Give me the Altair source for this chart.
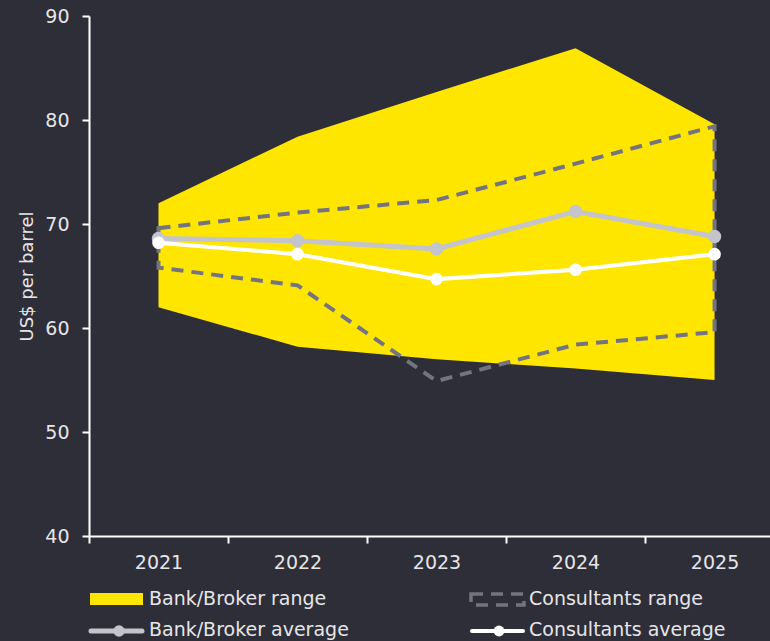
import altair as alt
import pandas as pd

# ---- data ----
years = [2021, 2022, 2023, 2024, 2025]
bank_low = [62.0, 58.2, 57.0, 56.1, 55.0]
bank_high = [72.0, 78.4, 82.7, 86.9, 79.6]
cons_low = [65.8, 64.1, 54.9, 58.4, 59.6]
cons_high = [69.6, 71.1, 72.3, 75.8, 79.4]
bank_avg = [68.6, 68.4, 67.6, 71.2, 68.8]
cons_avg = [68.2, 67.1, 64.7, 65.6, 67.1]
y_ticks = [40, 50, 60, 70, 80, 90]
legend_labels = ["Bank/Broker range", "Consultants range", "Bank/Broker average", "Consultants average"]

df = pd.DataFrame({
    "year": years,
    "bank_low": bank_low,
    "bank_high": bank_high,
    "cons_low": cons_low,
    "cons_high": cons_high,
    "bank_avg": bank_avg,
    "cons_avg": cons_avg,
})

BG = "#2e2e38"
TXT = "#e6e6e8"
YELLOW = "#ffe600"
DASH = "#747480"
GRAY = "#c4c4cd"
WHITE = "#ffffff"
FONT = "DejaVu Sans"
FW = "normal"

x_axis = alt.Axis(
    values=[2020.5, 2021.5, 2022.5, 2023.5, 2024.5],
    labelExpr="format(datum.value + 0.5, 'd')",
    labelOffset=69.5,
    labelFlush=False,
    labelOverlap=False,
    labelPadding=10,
    title=None,
    grid=False,
)
y_axis = alt.Axis(
    values=y_ticks,
    title="US$ per barrel",
    titlePadding=8,
    labelPadding=13,
    grid=False,
)


def X():
    return alt.X("year:Q", scale=alt.Scale(domain=[2020.5, 2025.399], nice=False, zero=False), axis=x_axis)


def Y(field):
    return alt.Y(f"{field}:Q", scale=alt.Scale(domain=[40, 90], nice=False, zero=False), axis=y_axis)


base = alt.Chart(df)

bank_range = base.mark_area(color=YELLOW, opacity=1).encode(
    x=X(), y=Y("bank_high"), y2=alt.Y2("bank_low")
)
cons_range = base.mark_area(
    fillOpacity=0, stroke=DASH, strokeWidth=4, strokeDash=[12, 8]
).encode(x=X(), y=Y("cons_high"), y2=alt.Y2("cons_low"))

bank_line = base.mark_line(color=GRAY, strokeWidth=5).encode(x=X(), y=Y("bank_avg"))
bank_pts = base.mark_circle(color=GRAY, size=180, opacity=1).encode(x=X(), y=Y("bank_avg"))
cons_line = base.mark_line(color=WHITE, strokeWidth=4).encode(x=X(), y=Y("cons_avg"))
cons_pts = base.mark_circle(color=WHITE, size=160, opacity=1).encode(x=X(), y=Y("cons_avg"))

# ---- legend (drawn below the plot) ----
one = pd.DataFrame({"k": [0]})
lg = alt.Chart(one)
r1, r2 = 583, 615
c1, c2 = 1, 381
sw = 54

leg_yellow = lg.mark_rect(color=YELLOW).encode(
    x=alt.value(c1), x2=alt.value(c1 + sw - 1), y=alt.value(r1 - 6), y2=alt.value(r1 + 6)
)
leg_dash = lg.mark_rect(fillOpacity=0, stroke=DASH, strokeWidth=3.5, strokeDash=[12, 8]).encode(
    x=alt.value(c2 + 1), x2=alt.value(c2 + sw), y=alt.value(r1 - 5), y2=alt.value(r1 + 6)
)
leg_gray_line = lg.mark_rule(color=GRAY, strokeWidth=5, strokeCap="round").encode(
    x=alt.value(c1 + 1), x2=alt.value(c1 + sw - 2), y=alt.value(r2)
)
leg_gray_pt = lg.mark_circle(color=GRAY, size=130, opacity=1).encode(x=alt.value(c1 + 29), y=alt.value(r2))
leg_white_line = lg.mark_rule(color=WHITE, strokeWidth=4, strokeCap="round").encode(
    x=alt.value(c2 + 2), x2=alt.value(c2 + sw - 1), y=alt.value(r2)
)
leg_white_pt = lg.mark_circle(color=WHITE, size=120, opacity=1).encode(x=alt.value(c2 + 29), y=alt.value(r2))


def leg_text(label, xx, yy):
    return lg.mark_text(
        align="left", baseline="middle", font=FONT, fontSize=19, fontWeight=FW, color=TXT
    ).encode(x=alt.value(xx), y=alt.value(yy), text=alt.value(label))


texts = [
    leg_text(legend_labels[0], c1 + sw + 5, r1),
    leg_text(legend_labels[1], c2 + sw + 5, r1),
    leg_text(legend_labels[2], c1 + sw + 5, r2 - 1),
    leg_text(legend_labels[3], c2 + sw + 5, r2 - 1),
]

chart = alt.layer(
    bank_range, cons_range, bank_line, bank_pts, cons_line, cons_pts,
    leg_yellow, leg_dash, leg_gray_line, leg_gray_pt, leg_white_line, leg_white_pt,
    *texts,
).properties(
    width=681,
    height=520,
    background=BG,
    padding={"left": 89, "top": 16, "right": 0, "bottom": 105},
    autosize=alt.AutoSizeParams(type="none"),
).configure_view(
    stroke=None
).configure_axis(
    domainColor=WHITE,
    domainWidth=2,
    tickColor=WHITE,
    tickWidth=2,
    tickSize=7,
    labelColor=TXT,
    labelFont=FONT,
    labelFontSize=19,
    labelFontWeight=FW,
    titleColor=TXT,
    titleFont=FONT,
    titleFontSize=18,
    titleFontWeight=FW,
)

chart.save("out.html", embed_options={"renderer": "svg", "actions": False})
